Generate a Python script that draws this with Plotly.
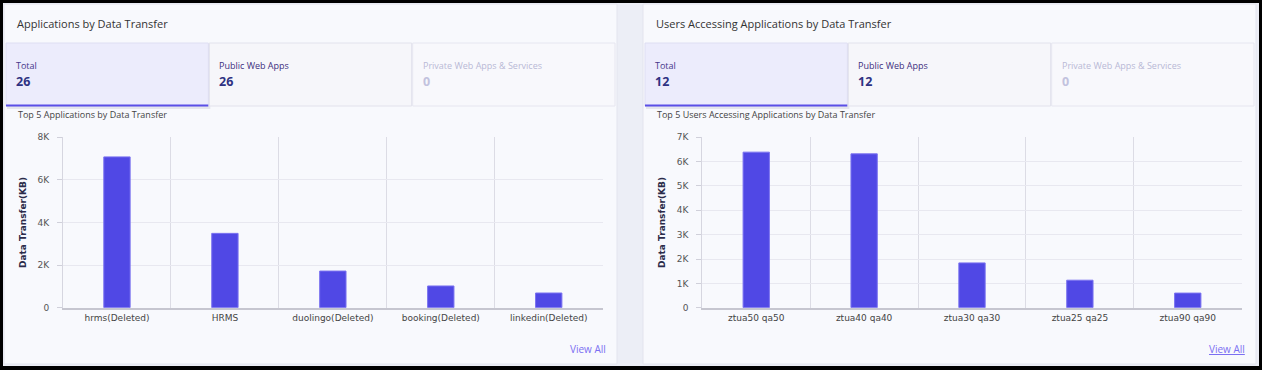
import plotly.graph_objects as go

W, H = 1262, 370

# ---------------- data ----------------
left_title = "Applications by Data Transfer"
left_subtitle = "Top 5 Applications by Data Transfer"
left_categories = ["hrms(Deleted)", "HRMS", "duolingo(Deleted)", "booking(Deleted)", "linkedin(Deleted)"]
left_values = [7080, 3490, 1720, 1020, 690]
left_tickvals = [0, 2000, 4000, 6000, 8000]
left_ticktext = ["0", "2K", "4K", "6K", "8K"]
left_range = [0, 8000]
left_counts = {"Total": "26", "Public Web Apps": "26", "Private Web Apps & Services": "0"}

right_title = "Users Accessing Applications by Data Transfer"
right_subtitle = "Top 5 Users Accessing Applications by Data Transfer"
right_categories = ["ztua50 qa50", "ztua40 qa40", "ztua30 qa30", "ztua25 qa25", "ztua90 qa90"]
right_values = [6390, 6320, 1840, 1130, 600]
right_tickvals = [0, 1000, 2000, 3000, 4000, 5000, 6000, 7000]
right_ticktext = ["0", "1K", "2K", "3K", "4K", "5K", "6K", "7K"]
right_range = [0, 7000]
right_counts = {"Total": "12", "Public Web Apps": "12", "Private Web Apps & Services": "0"}

y_axis_title = "Data Transfer(KB)"

# ---------------- helpers ----------------
def fx(px):
    return px / W

def fy(py):
    return 1 - py / H

BAR = "#5048e5"
BAR_LINE = "#7a72f0"
GRID_H = "#e8e8f0"
GRID_V = "#dcdce5"

fig = go.Figure()

fig.add_trace(go.Bar(x=left_categories, y=left_values, xaxis="x", yaxis="y",
                     width=0.244, marker=dict(color=BAR, line=dict(color=BAR_LINE, width=1)),
                     hoverinfo="skip", showlegend=False))
fig.add_trace(go.Bar(x=right_categories, y=right_values, xaxis="x2", yaxis="y2",
                     width=0.244, marker=dict(color=BAR, line=dict(color=BAR_LINE, width=1)),
                     hoverinfo="skip", showlegend=False))

shapes = []
annotations = []

def rect(x0, y0, x1, y1, fill, line=None, lw=1, layer="below"):
    shapes.append(dict(type="rect", xref="paper", yref="paper",
                       x0=fx(x0), x1=fx(x1), y0=fy(y1), y1=fy(y0),
                       fillcolor=fill, line=dict(color=line or fill, width=lw if line else 0),
                       layer=layer))

def text(x, y, s, size, color, bold=False, family="Open Sans", xanchor="left"):
    if bold:
        s = "<b>" + s + "</b>"
    annotations.append(dict(xref="paper", yref="paper", x=fx(x), y=fy(y), text=s,
                            showarrow=False, xanchor=xanchor, yanchor="middle",
                            font=dict(size=size, color=color, family=family)))

# page background
rect(3, 3, 1259, 366, "#eceef6")

def panel(x0, x1, title, subtitle, counts, view_all_underline):
    rect(x0, 4, x1, 364, "#f8f9fd", "#e3e4ee")
    text(x0 + 11, 23, title, 11, "#333333")
    # tabs
    tw = (x1 - x0 - 6) / 3.0
    labels = list(counts.keys())
    for i, lab in enumerate(labels):
        bx0 = x0 + 2 + i * (tw + 1)
        bx1 = bx0 + tw
        if i == 0:
            rect(bx0 + 1, 44, bx1 + 2, 109, "rgba(60,60,90,0.10)")
            rect(bx0, 43, bx1, 106, "#ececfc", "#dedef2")
            rect(bx0, 104.5, bx1, 106.5, "#5a4fe6")
            lc, nc = "#45388a", "#2f3282"
        elif i == 1:
            rect(bx0, 43, bx1, 106, "#f6f6fa", "#e2e2ec")
            lc, nc = "#3d2f80", "#2f3282"
        else:
            rect(bx0, 43, bx1, 106, "#f8f8fc", "#e6e6f0")
            lc, nc = "#b8b8d6", "#c2c2de"
        text(bx0 + 8, 66, lab, 9, lc)
        text(bx0 + 8, 81, counts[lab], 12.5, nc, bold=True)
    text(x0 + 12, 115, subtitle, 9, "#444444")
    va = "<u>View All</u>" if view_all_underline else "View All"
    text(x1 - 9, 349, va, 10, "#7b6ff2", xanchor="right")

panel(4, 617, left_title, left_subtitle, left_counts, False)
panel(643, 1256, right_title, right_subtitle, right_counts, True)

tick_font = dict(family="DejaVu Sans", size=9, color="#555555")
xtick_font = dict(family="DejaVu Sans", size=9, color="#444444")
title_font = dict(family="DejaVu Sans", size=9, color="#2b2b4a")

def xaxis_cfg(domain):
    return dict(domain=domain, type="category", range=[-0.5, 4.5], tickson="boundaries",
                showgrid=True, gridcolor=GRID_V, gridwidth=1, ticks="",
                showline=True, linecolor="#c6c6d0", linewidth=2,
                tickfont=xtick_font, fixedrange=True, automargin=False)

def yaxis_cfg(domain, rng, tv, tt, anchor):
    return dict(domain=domain, range=rng, tickvals=tv, ticktext=tt, anchor=anchor,
                showgrid=True, gridcolor=GRID_H, gridwidth=1, zeroline=False,
                showline=True, linecolor="#d6d6e0", linewidth=1,
                ticks="outside", ticklen=5, tickcolor="#d0d0da", ticklabelstandoff=6,
                tickfont=tick_font, fixedrange=True, automargin=False,
                title=dict(text="<b>" + y_axis_title + "</b>", font=title_font, standoff=9))

ydom = [fy(307.7), fy(137.3)]
fig.update_layout(
    width=W, height=H,
    margin=dict(l=0, r=0, t=0, b=0),
    paper_bgcolor="#000000",
    plot_bgcolor="rgba(0,0,0,0)",
    showlegend=False,
    hovermode=False,
    xaxis=xaxis_cfg([fx(63), fx(602.7)]),
    yaxis=yaxis_cfg(ydom, left_range, left_tickvals, left_ticktext, "x"),
    xaxis2=dict(xaxis_cfg([fx(702.3), fx(1241.7)]), anchor="y2"),
    yaxis2=yaxis_cfg(ydom, right_range, right_tickvals, right_ticktext, "x2"),
    shapes=shapes,
    annotations=annotations,
)
fig.update_layout(xaxis=dict(anchor="y"))

fig.write_html("out.html", include_plotlyjs=True, config={"displayModeBar": False, "staticPlot": True},
               post_script="document.body.style.margin='0';document.body.style.overflow='hidden';")
